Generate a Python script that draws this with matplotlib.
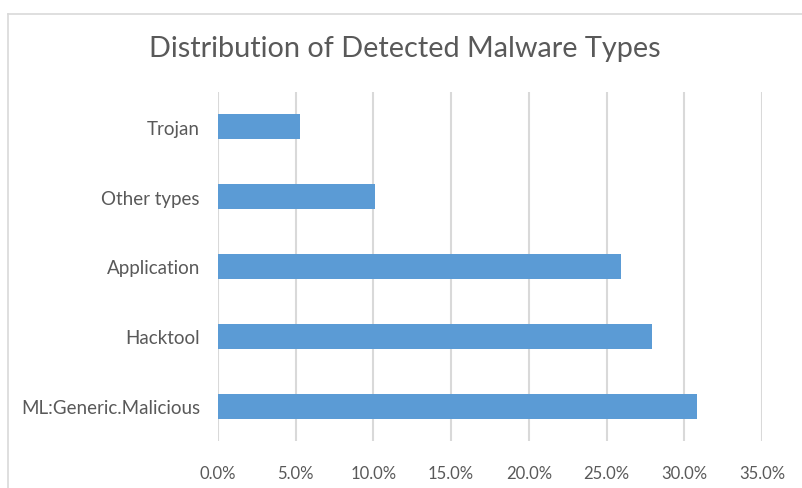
import matplotlib.pyplot as plt
from matplotlib.ticker import PercentFormatter

categories = ["ML:Generic.Malicious", "Hacktool", "Application", "Other types", "Trojan"]
shares = [30.8, 27.95, 25.9, 10.1, 5.28]
ticks = [0, 5, 10, 15, 20, 25, 30, 35]

plt.rcParams['font.family'] = ['Lato', 'DejaVu Sans']
text_col = '#595959'
grid_col = '#d9d9d9'

fig = plt.figure(figsize=(8.02, 4.89), dpi=100)
ax = fig.add_axes([218 / 802, 47 / 489, 544 / 802, 349 / 489])

ax.barh(range(len(categories)), shares, height=0.36, color='#5B9BD5', zorder=3)
ax.set_ylim(-0.5, len(categories) - 0.5)
ax.set_xlim(0, 35)
ax.set_xticks(ticks)
ax.xaxis.set_major_formatter(PercentFormatter(decimals=1))
ax.set_yticks(range(len(categories)))
ax.set_yticklabels(categories)

ax.grid(axis='x', color=grid_col, linewidth=1.5, zorder=0)
for s in ax.spines.values():
    s.set_visible(False)
ax.tick_params(axis='both', length=0, colors=text_col)
ax.tick_params(axis='x', pad=17, labelsize=12)
ax.tick_params(axis='y', pad=13, labelsize=13.5)

fig.text(405 / 802, 1 - 49 / 489, "Distribution of Detected Malware Types",
         ha='center', va='center', fontsize=20.8, color=text_col)

# chart frame (only the left and top edges show in the crop)
fig.add_artist(plt.Line2D([8 / 802, 8 / 802], [0, 1 - 15 / 489], transform=fig.transFigure,
                          color=grid_col, linewidth=1.2))
fig.add_artist(plt.Line2D([8 / 802, 1], [1 - 15 / 489, 1 - 15 / 489], transform=fig.transFigure,
                          color=grid_col, linewidth=1.2))

fig.savefig("out.png", dpi=100)
